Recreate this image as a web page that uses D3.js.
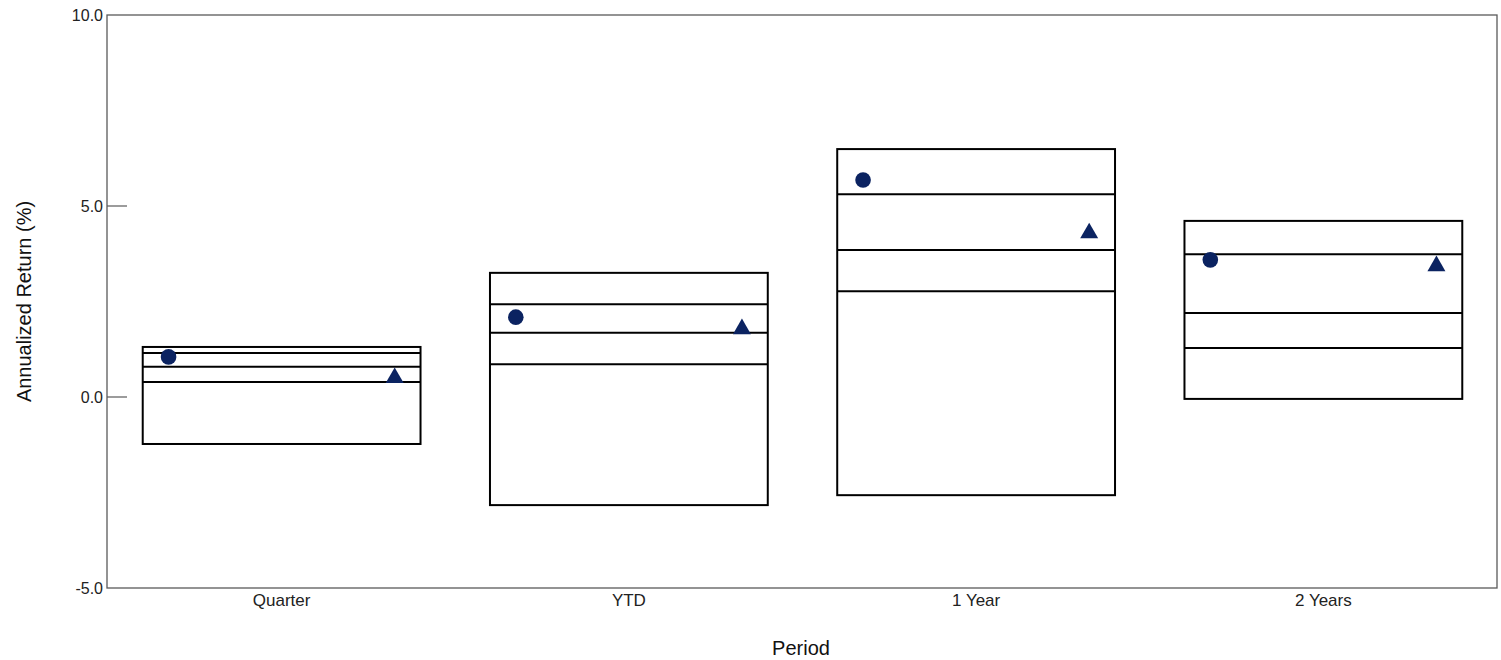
<!DOCTYPE html>
<html><head><meta charset="utf-8">
<script src="https://cdn.jsdelivr.net/npm/d3@7"></script>
<style>
html,body{margin:0;padding:0;background:#fff;}
svg{display:block;font-family:"Liberation Sans",Arial,sans-serif;}
</style></head>
<body>
<svg id="chart" width="1501" height="660"></svg>
<script>
const categories = ["Quarter", "YTD", "1 Year", "2 Years"];
const boxTop     = [1.31, 3.25, 6.49, 4.61];
const upperLine  = [1.15, 2.43, 5.31, 3.74];
const midLine    = [0.79, 1.68, 3.85, 2.20];
const lowerLine  = [0.39, 0.86, 2.77, 1.28];
const boxBottom  = [-1.23, -2.83, -2.57, -0.05];
const circleVals = [1.05, 2.09, 5.68, 3.59];
const triangleVals = [0.50, 1.78, 4.29, 3.43];
const yTicks = [-5, 0, 5, 10];

const svg = d3.select("#chart");
const m = {left:107, right:1497, top:15, bottom:588};

const x = d3.scaleBand().domain(categories).range([m.left + 1, m.right]).paddingInner(0.2).paddingOuter(0.1);
const y = d3.scaleLinear().domain([-5, 10]).range([m.bottom, m.top]);

// frame
svg.append("rect").attr("x", m.left).attr("y", m.top)
  .attr("width", m.right - m.left).attr("height", m.bottom - m.top)
  .attr("fill", "none").attr("stroke", "#5a5a5a").attr("stroke-width", 1.3);

// y axis
const fmt = d3.format(".1f");
const yAxis = svg.append("g").attr("transform", `translate(${m.left},0)`)
  .call(d3.axisLeft(y).tickValues(yTicks).tickFormat(d => fmt(d).replace("\u2212", "-")).tickSize(0).tickPadding(4));
yAxis.select(".domain").remove();
yAxis.selectAll("text").attr("font-size", 16).attr("fill", "#222")
  .attr("font-family", "Liberation Sans, Arial, sans-serif");
// inward ticks
svg.append("g").selectAll("line").data(yTicks.filter(d => d > -5 && d < 10)).join("line")
  .attr("x1", m.left).attr("x2", m.left + 20)
  .attr("y1", d => y(d)).attr("y2", d => y(d))
  .attr("stroke", "#5a5a5a").attr("stroke-width", 1.2);

// x axis labels
const xAxis = svg.append("g").attr("transform", `translate(0,${m.bottom})`)
  .call(d3.axisBottom(x).tickSize(0).tickPadding(6));
xAxis.select(".domain").remove();
xAxis.selectAll("text").attr("font-size", 17).attr("fill", "#222")
  .attr("font-family", "Liberation Sans, Arial, sans-serif");

// axis titles
svg.append("text").attr("x", (m.left + m.right) / 2 - 1).attr("y", 655)
  .attr("text-anchor", "middle").attr("font-size", 20).attr("fill", "#111").text("Period");
svg.append("text").attr("transform", `translate(31,${(m.top + m.bottom) / 2}) rotate(-90)`)
  .attr("text-anchor", "middle").attr("font-size", 20).attr("fill", "#111").text("Annualized Return (%)");

const data = categories.map((c, i) => ({
  c, top: boxTop[i], bottom: boxBottom[i],
  lines: [upperLine[i], midLine[i], lowerLine[i]],
  circle: circleVals[i], tri: triangleVals[i]
}));

const g = svg.append("g");
g.selectAll("rect.box").data(data).join("rect").attr("class", "box")
  .attr("x", d => x(d.c)).attr("width", x.bandwidth())
  .attr("y", d => y(d.top)).attr("height", d => y(d.bottom) - y(d.top))
  .attr("fill", "none").attr("stroke", "#000").attr("stroke-width", 2);

g.selectAll("g.lines").data(data).join("g").attr("class", "lines")
  .selectAll("line").data(d => d.lines.map(v => ({c: d.c, v}))).join("line")
  .attr("x1", d => x(d.c)).attr("x2", d => x(d.c) + x.bandwidth())
  .attr("y1", d => y(d.v)).attr("y2", d => y(d.v))
  .attr("stroke", "#000").attr("stroke-width", 2);

const navy = "#0b2361";
g.selectAll("circle.pt").data(data).join("circle").attr("class", "pt")
  .attr("cx", d => x(d.c) + x.bandwidth() * 0.093)
  .attr("cy", d => y(d.circle)).attr("r", 7.8).attr("fill", navy);

g.selectAll("path.tri").data(data).join("path").attr("class", "tri")
  .attr("d", d3.symbol(d3.symbolTriangle).size(140))
  .attr("transform", d => `translate(${x(d.c) + x.bandwidth() * 0.907},${y(d.tri)})`)
  .attr("fill", navy);
</script>
</body></html>
